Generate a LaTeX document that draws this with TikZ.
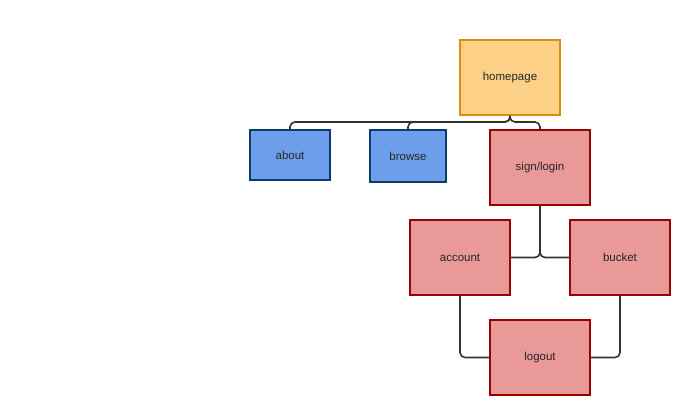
\documentclass[tikz,border=0pt]{standalone}
\usepackage{fontspec}
\setmainfont{Liberation Sans}
\begin{document}
\begin{tikzpicture}[x=1pt,y=-1pt,
  box/.style={draw,line width=1.6pt,inner sep=0pt,font=\fontsize{11.5}{13}\selectfont,text=black!85},
  orangebox/.style={box,fill=orangefill,draw=orangeline},
  bluebox/.style={box,fill=bluefill,draw=blueline},
  redbox/.style={box,fill=redfill,draw=redline},
  conn/.style={draw=black!80,line width=1.6pt,rounded corners=5pt}]
\definecolor{orangefill}{HTML}{FDD087}
\definecolor{orangeline}{HTML}{D8900C}
\definecolor{bluefill}{HTML}{6D9EEB}
\definecolor{blueline}{HTML}{0C3C6E}
\definecolor{redfill}{HTML}{EA9999}
\definecolor{redline}{HTML}{990000}
\useasboundingbox (0,0) rectangle (696,415);
\node[orangebox,minimum width=100pt,minimum height=75pt] (home) at (510,77.5) {homepage};
\node[bluebox,minimum width=80pt,minimum height=50pt] (about) at (290,155) {about};
\node[bluebox,minimum width=76pt,minimum height=52pt] (browse) at (408,156) {browse};
\node[redbox,minimum width=100pt,minimum height=75pt] (sign) at (540,167.5) {sign/login};
\node[redbox,minimum width=100pt,minimum height=75pt] (account) at (460,257.5) {account};
\node[redbox,minimum width=100pt,minimum height=75pt] (bucket) at (620,257.5) {bucket};
\node[redbox,minimum width=100pt,minimum height=75pt] (logout) at (540,357.5) {logout};
\coordinate (hj) at (510,122);
\coordinate (sj) at (540,257.5);
\draw[conn] (home.south) -- (hj) -| (about.north);
\draw[conn] (home.south) -- (hj) -| (browse.north);
\draw[conn] (home.south) -- (hj) -| (sign.north);
\draw[conn] (sign.south) -- (sj) -- (account.east);
\draw[conn] (sign.south) -- (sj) -- (bucket.west);
\draw[conn] (account.south) |- (logout.west);
\draw[conn] (bucket.south) |- (logout.east);
\end{tikzpicture}
\end{document}
